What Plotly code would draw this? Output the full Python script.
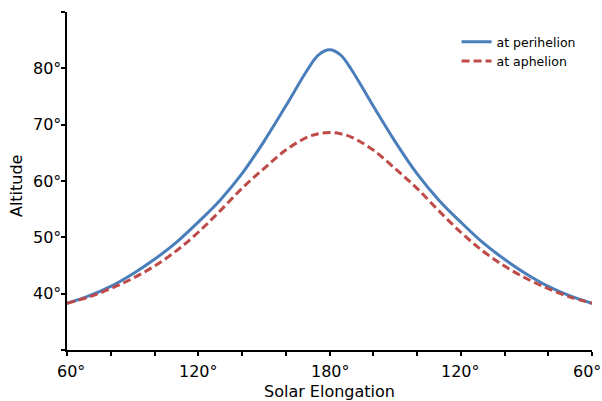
import plotly.graph_objects as go

# Elongation positions (60 -> 180 -> 60 displayed along the axis)
x_pos = [60, 70, 80, 90, 100, 110, 120, 130, 140, 150, 160, 170, 175, 180,
         185, 190, 200, 210, 220, 230, 240, 250, 260, 270, 280, 290, 300]
perihelion = [38.3, 39.6, 41.3, 43.5, 46.1, 49.1, 52.7, 56.6, 61.3, 67.0, 73.3, 79.8, 82.4, 83.3,
              82.4, 79.8, 73.3, 67.0, 61.3, 56.6, 52.7, 49.1, 46.1, 43.5, 41.3, 39.6, 38.3]
aphelion = [38.3, 39.4, 40.9, 42.7, 44.9, 47.6, 50.9, 54.7, 58.7, 62.2, 65.5, 67.8, 68.4, 68.6,
            68.4, 67.8, 65.5, 62.2, 58.7, 54.7, 50.9, 47.6, 44.9, 42.7, 40.9, 39.4, 38.3]

x_tickvals = [60, 80, 100, 120, 140, 160, 180, 200, 220, 240, 260, 280, 300]
x_label_vals = [60, 120, 180, 240, 300]
x_label_text = ["60°", "120°", "180°", "120°", "60°"]
y_tickvals = [30, 40, 50, 60, 70, 80, 90]
y_label_vals = [40, 50, 60, 70, 80]
y_label_text = ["40°", "50°", "60°", "70°", "80°"]

FONT = "DejaVu Sans, Verdana, sans-serif"

fig = go.Figure()
fig.add_trace(go.Scatter(x=x_pos, y=perihelion, mode="lines", name="at perihelion",
                         line=dict(color="#4A7EBB", width=3, shape="spline")))
fig.add_trace(go.Scatter(x=x_pos, y=aphelion, mode="lines", name="at aphelion",
                         line=dict(color="#BE4B48", width=3, dash="8px,4px", shape="spline")))

# x tick labels as annotations (so the last one can sit inside the page)
shifts = [4, 0, 1, 0, -5]
for v, t, s in zip(x_label_vals, x_label_text, shifts):
    fig.add_annotation(x=v, y=0, xref="x", yref="paper", text=t, showarrow=False,
                       xanchor="center", yanchor="top", yshift=-10, xshift=s,
                       font=dict(size=16, family=FONT, color="black"))
# y tick labels
for v, t in zip(y_label_vals, y_label_text):
    fig.add_annotation(x=0, y=v, xref="paper", yref="y", text=t, showarrow=False,
                       xanchor="right", yanchor="middle", xshift=-4,
                       font=dict(size=16, family=FONT, color="black"))

# axis titles
fig.add_annotation(x=0.5, y=0, xref="paper", yref="paper", text="Solar Elongation",
                   showarrow=False, xanchor="center", yanchor="middle", yshift=-41,
                   font=dict(size=16, family=FONT, color="black"))
fig.add_annotation(x=0, y=0.485, xref="paper", yref="paper", text="Altitude",
                   showarrow=False, xanchor="center", yanchor="middle", xshift=-51,
                   textangle=-90, font=dict(size=16, family=FONT, color="black"))

fig.update_layout(
    width=602, height=401,
    margin=dict(l=67, r=10, t=12, b=51, autoexpand=False),
    paper_bgcolor="white", plot_bgcolor="white",
    font=dict(family=FONT, size=16, color="#000000"),
    showlegend=True,
    legend=dict(x=0.742, y=0.955, xanchor="left", yanchor="top",
                bgcolor="rgba(0,0,0,0)", font=dict(size=12.5, family=FONT),
                itemwidth=30, tracegroupgap=0),
    xaxis=dict(range=[60, 300], tickvals=x_tickvals, showticklabels=False,
               showgrid=False, zeroline=False, showline=True, linecolor="black", linewidth=2,
               ticks="outside", ticklen=4, tickwidth=2, tickcolor="black",
               automargin=False),
    yaxis=dict(range=[30, 90], tickvals=y_tickvals, showticklabels=False,
               showgrid=False, zeroline=False, showline=True, linecolor="black", linewidth=2,
               ticks="outside", ticklen=4, tickwidth=2, tickcolor="black",
               automargin=False),
)

fig.write_html("out.html")
